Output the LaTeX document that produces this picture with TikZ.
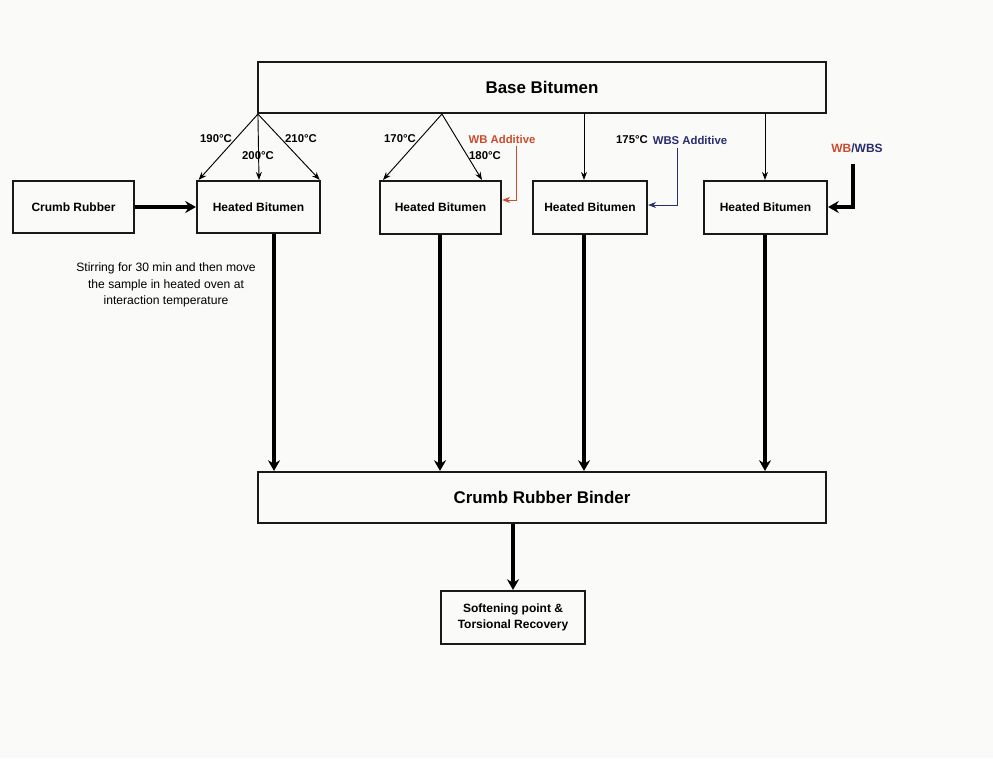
\documentclass[tikz,border=0pt]{standalone}
\usepackage{fontspec}
\setmainfont{Liberation Sans}
\usetikzlibrary{arrows.meta,calc}
\definecolor{wbred}{RGB}{205,75,45}
\definecolor{wbsblue}{RGB}{40,45,110}
\definecolor{paper}{RGB}{250,250,248}
\tikzset{
  box/.style={draw=black!90,line width=1.6pt,inner sep=0pt,align=center,font=\bfseries\fontsize{9}{11}\selectfont},
  bigbox/.style={box,minimum width=426pt,minimum height=38.25pt,font=\bfseries\fontsize{12.7}{15}\selectfont},
  thin/.style={line width=0.7pt,-{Stealth[length=6pt,width=4.5pt]}},
  thick/.style={line width=2.6pt,-{Stealth[length=8pt,width=9pt]}},
  lbl/.style={font=\bfseries\fontsize{8.5}{10}\selectfont,inner sep=0pt}
}
\begin{document}
\begin{tikzpicture}[x=0.75pt,y=-0.75pt]
\path[fill=paper] (0,0) rectangle (993,758);
\useasboundingbox (0,0) rectangle (993,758);
% boxes
\node[bigbox] (base) at (542,87.5) {Base Bitumen};
\node[box,minimum width=90.75pt,minimum height=39pt] (cr) at (73.5,207) {Crumb Rubber};
\node[box,minimum width=92.25pt,minimum height=39pt] (hb1) at (258.5,207) {Heated Bitumen};
\node[box,minimum width=90.75pt,minimum height=39.75pt] (hb2) at (440.5,207.5) {Heated Bitumen};
\node[box,minimum width=85.5pt,minimum height=39.75pt] (hb3) at (590,207.5) {Heated Bitumen};
\node[box,minimum width=92.25pt,minimum height=39.75pt] (hb4) at (765.5,207.5) {Heated Bitumen};
\node[bigbox] (crb) at (542,497.5) {Crumb Rubber Binder};
\node[box,minimum width=108pt,minimum height=39.75pt,font=\bfseries\fontsize{9}{12.5}\selectfont] (sp) at (513,617.5) {Softening point \&\\Torsional Recovery};
% source points
\coordinate (s1) at ($(base.south west)+(1,0)$);
\coordinate (s2) at ($(base.south west)+(185,0)$);
\coordinate (s3) at (584,113);
\coordinate (s4) at (765,113);
% temperature arrows
\draw[thin] (s1) -- ([xshift=2]hb1.north west);
\draw[thin] (s1) -- (hb1.north -| 259,0);
\draw[thin] (s1) -- ([xshift=-1]hb1.north east);
\draw[thin] (s2) -- (hb2.north -| 383,0);
\draw[thin] (s2) -- (hb2.north -| 482,0);
\draw[thin] (s3) -- (hb3.north -| s3);
\draw[thin] (s4) -- (hb4.north -| s4);
% labels
\node[lbl] at (216,139) {190°C};
\node[lbl] at (258,156) {200°C};
\node[lbl] at (301,139) {210°C};
\node[lbl] at (400,139) {170°C};
\node[lbl] at (485,156) {180°C};
\node[lbl,text=wbred] (wbadd) at (502,139) {WB Additive};
\node[lbl] at (632,140) {175°C};
\node[lbl,text=wbsblue] (wbsadd) at (690,140) {WBS Additive};
\node[lbl,font=\bfseries\fontsize{9}{11}\selectfont] (wbwbs) at (857,148) {\textcolor{wbred}{WB}\textcolor{wbsblue}{/WBS}};
% additive connectors
\coordinate (a1) at (516,146);
\draw[wbred,line width=0.7pt,-{Stealth[length=6pt,width=4.5pt]}] (a1) |- (hb2.east |- 0,200);
\coordinate (a2) at (677,148);
\draw[wbsblue,line width=0.7pt,-{Stealth[length=6pt,width=4.5pt]}] (a2) |- (hb3.east |- 0,205);
\coordinate (a3) at (853,164);
\draw[thick] (a3) |- (hb4.east |- 0,207);
% crumb rubber to heated
\draw[thick] (cr.east |- 0,207) -- (hb1.west |- 0,207);
% heated to binder
\draw[thick] (hb1.south -| 274,0) -- (crb.north -| 274,0);
\draw[thick] (hb2.south -| 440,0) -- (crb.north -| 440,0);
\draw[thick] (hb3.south -| 584,0) -- (crb.north -| 584,0);
\draw[thick] (hb4.south -| 765,0) -- (crb.north -| 765,0);
\draw[thick] (crb.south -| 513,0) -- (sp.north -| 513,0);
% note
\node[align=center,font=\fontsize{9.1}{12.3}\selectfont,inner sep=0pt] (note) at (166,285) {Stirring for 30 min and then move\\the sample in heated oven at\\interaction temperature};
\end{tikzpicture}
\end{document}
